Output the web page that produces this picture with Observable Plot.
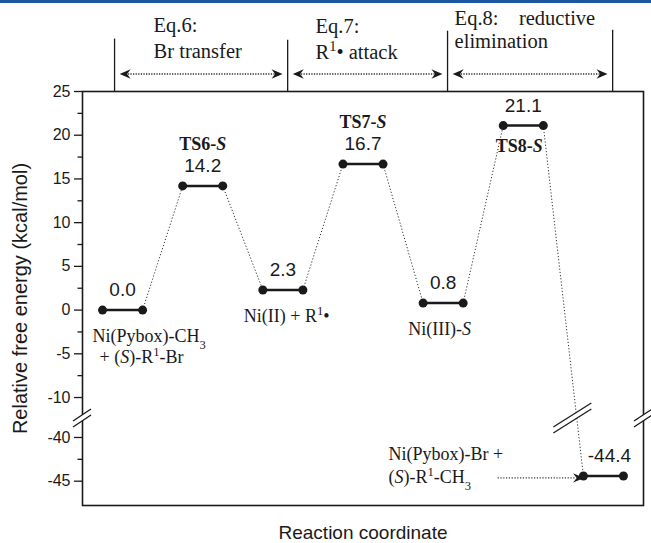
<!DOCTYPE html>
<html><head><meta charset="utf-8">
<script src="https://cdn.jsdelivr.net/npm/d3@7"></script>
<script src="https://cdn.jsdelivr.net/npm/@observablehq/plot@0.6"></script>
<style>
body{margin:0;background:#fff;}
#wrap{position:relative;width:651px;height:543px;}
#bar{position:absolute;left:0;top:0;width:651px;height:3px;background:#1b56a0;}
</style></head><body>
<div id="wrap"><div id="chart"></div><div id="bar"></div></div>
<script>
// ---- data ----
const steps = [0, 1, 2, 3, 4, 5, 6];
const energies = [0.0, 14.2, 2.3, 16.7, 0.8, 21.1, -44.4];
const energyLabels = ["0.0", "14.2", "2.3", "16.7", "0.8", "21.1", "-44.4"];
const tsNames = ["", "TS6-<i>S</i>", "", "TS7-<i>S</i>", "", "TS8-<i>S</i>", ""];
const speciesNames = ["Ni(Pybox)-CH<sub>3</sub>", "", "Ni(II) + R<sup>1</sup>•", "", "Ni(III)-<i>S</i>", "", ""];
const speciesLine2 = ["+ (<i>S</i>)-R<sup>1</sup>-Br", "", "", "", "", "", ""];
const productLines = ["Ni(Pybox)-Br +", "(<i>S</i>)-R<sup>1</sup>-CH<sub>3</sub>"];
const majorTicks = [25, 20, 15, 10, 5, 0, -5, -10, -40, -45];
const tickLabels = ["25", "20", "15", "10", "5", "0", "-5", "-10", "-40", "-45"];
const minorTicks = [22.5, 17.5, 12.5, 7.5, 2.5, -2.5, -7.5, -42.5];
const stageLine1 = ["Eq.6:", "Eq.7:", "Eq.8:\u00a0\u00a0\u00a0\u00a0reductive"];
const stageLine2 = ["Br transfer", "R<sup>1</sup>• attack", "elimination"];
const stageBounds = [-0.1, 2.06, 4.055, 6.115];

// ---- broken axis transform ----
const GAP = 25.43;                 // compresses -40..-10 region
const brk = v => v <= -25 ? v + GAP : v;
const BREAK_Y = -12.4;
const tickLabelMap = new Map(majorTicks.map((t, i) => [brk(t), tickLabels[i]]));

const SERIF = "'Liberation Serif','Times New Roman',serif";
const SANS = "'Liberation Sans',Arial,sans-serif";
const INK = "#1a1a1a";

const headRight = {draw(ctx, size) { const r = Math.sqrt(size / Math.PI);
  ctx.moveTo(r, 0); ctx.lineTo(-r, -r * 0.85); ctx.lineTo(-r * 0.35, 0); ctx.lineTo(-r, r * 0.85); ctx.closePath(); }};
const headLeft = {draw(ctx, size) { const r = Math.sqrt(size / Math.PI);
  ctx.moveTo(-r, 0); ctx.lineTo(r, -r * 0.85); ctx.lineTo(r * 0.35, 0); ctx.lineTo(r, r * 0.85); ctx.closePath(); }};

const Y = i => brk(energies[i]);
const conn = steps.slice(0, -1);

// header layout (data space above the frame)
const lineTops = [31.0, 30.85, 31.9, 32.0];
const textStarts = [0.387, 2.408, 4.143];
const line1Y = [32.55, 32.45, 33.35];
const line2Y = [29.58, 29.5, 30.75];
const ARROW_Y = 27.0;

function breaks(index, {x, y}) {
  const g = d3.create("svg:g");
  const cy = y(BREAK_Y);
  const pair = (cx, hx, hy, gap) => {
    g.append("path")
      .attr("d", `M${cx - hx},${cy + hy - gap}L${cx + hx},${cy - hy - gap}L${cx + hx},${cy - hy + gap}L${cx - hx},${cy + hy + gap}Z`)
      .attr("fill", "white");
    for (const s of [-gap, gap]) {
      g.append("line").attr("x1", cx - hx).attr("y1", cy + hy + s)
        .attr("x2", cx + hx).attr("y2", cy - hy + s)
        .attr("stroke", INK).attr("stroke-width", 1.3);
    }
  };
  pair(x(-0.5), 9, 6, 3);
  pair(x(6.5), 9, 6, 3);
  const x1 = x(5.25), y1 = y(Y(5)), x2 = x(5.75), y2 = y(Y(6));
  const cx = x1 + (x2 - x1) * (cy - y1) / (y2 - y1);
  pair(cx - 4, 19, 12, 3);
  return g.node();
}

const speciesMarks = [];
const speciesLayout = [{i: 0, dx: -30}, {i: 2, dx: -39}, {i: 4, dx: -35}];
for (const {i, dx} of speciesLayout) {
  speciesMarks.push(Plot.text([i], {x: d => d, y: Y, text: d => speciesNames[d], textAnchor: "start",
    dx, dy: 26, lineAnchor: "middle", fontFamily: SERIF, fontSize: 18, fill: INK}));
}
speciesMarks.push(Plot.text([0], {x: d => d, y: Y, text: d => speciesLine2[d], textAnchor: "start",
  dx: -23, dy: 47, lineAnchor: "middle", fontFamily: SERIF, fontSize: 18, fill: INK}));

const plot = Plot.plot({
  width: 651, height: 543,
  marginTop: 91, marginBottom: 38, marginLeft: 82, marginRight: 8,
  style: {fontFamily: SANS, background: "transparent", overflow: "visible"},
  x: {domain: [-0.5, 6.5], axis: null},
  y: {domain: [-22.35, 25]},
  marks: [
    // connectors
    Plot.link(conn, {x1: i => i + 0.25, y1: Y, x2: i => i + 0.75, y2: i => Y(i + 1),
      stroke: "#333", strokeWidth: 1, strokeDasharray: "1.2,2"}),
    Plot.frame({stroke: INK, strokeWidth: 1.6}),
    breaks,
    Plot.axisY(majorTicks.map(brk), {anchor: "left", tickSize: 8, tickPadding: 4, label: null,
      tickFormat: d => tickLabelMap.get(d), fontSize: 16, color: INK, strokeWidth: 1.3}),
    Plot.axisY(minorTicks.map(brk), {anchor: "left", tickSize: 4.5, label: null,
      tickFormat: () => "", color: INK, strokeWidth: 1.3}),
    // levels
    Plot.ruleY(steps, {y: Y, x1: i => i - 0.25, x2: i => i + 0.25, stroke: INK, strokeWidth: 2.5}),
    Plot.dot(steps, {x: i => i - 0.25, y: Y, r: 4.5, fill: INK, stroke: "none"}),
    Plot.dot(steps, {x: i => i + 0.25, y: Y, r: 4.5, fill: INK, stroke: "none"}),
    Plot.text(steps.slice(0, 6), {x: i => i, y: Y, text: i => energyLabels[i], dy: -20, lineAnchor: "middle",
      fontFamily: SANS, fontSize: 19, fill: INK}),
    Plot.text([6], {x: i => i, y: Y, text: i => energyLabels[i], dx: 6, dy: -20, lineAnchor: "middle",
      fontFamily: SANS, fontSize: 19, fill: INK}),
    Plot.text([1, 3], {x: i => i, y: Y, text: i => tsNames[i], dy: -42, lineAnchor: "middle",
      fontFamily: SERIF, fontSize: 18, fontWeight: "bold", fill: INK}),
    Plot.text([5], {x: i => i, y: Y, text: i => tsNames[i], dx: -4, dy: 21, lineAnchor: "middle",
      fontFamily: SERIF, fontSize: 18, fontWeight: "bold", fill: INK}),
    ...speciesMarks,
    // product label with dotted arrow
    Plot.text([6], {x: i => i, y: Y, text: () => productLines[0], textAnchor: "start", dx: -215, dy: -22,
      lineAnchor: "middle", fontFamily: SERIF, fontSize: 18, fill: INK}),
    Plot.text([6], {x: i => i, y: Y, text: () => productLines[1], textAnchor: "start", dx: -215, dy: 1,
      lineAnchor: "middle", fontFamily: SERIF, fontSize: 18, fill: INK}),
    Plot.link([6], {x1: i => i - 1.32, x2: i => i - 0.36, y1: Y, y2: Y, dy: 2,
      stroke: "#333", strokeWidth: 1.3, strokeDasharray: "1.2,1.6"}),
    Plot.dot([6], {x: i => i - 0.31, y: Y, dy: 2, symbol: headRight, r: 5.5, fill: INK, stroke: "none"}),
    // header: stage separators, arrows, labels
    Plot.ruleX(stageBounds, {x: d => d, y1: 25, y2: (d, i) => lineTops[i], stroke: INK, strokeWidth: 1.3}),
    Plot.link([0, 1, 2], {x1: k => stageBounds[k] + 0.1, x2: k => stageBounds[k + 1] - 0.1,
      y1: ARROW_Y, y2: ARROW_Y, stroke: "#333", strokeWidth: 1.5, strokeDasharray: "1.3,1.3"}),
    Plot.dot([0, 1, 2], {x: k => stageBounds[k] + 0.07, y: ARROW_Y, dx: 5, symbol: headLeft, r: 5.5, fill: INK, stroke: "none"}),
    Plot.dot([0, 1, 2], {x: k => stageBounds[k + 1] - 0.07, y: ARROW_Y, dx: -5, symbol: headRight, r: 5.5, fill: INK, stroke: "none"}),
    Plot.text([0, 1, 2], {x: k => textStarts[k], y: k => line1Y[k], text: k => stageLine1[k], textAnchor: "start",
      lineAnchor: "middle", fontFamily: SERIF, fontSize: 20.5, fill: INK}),
    Plot.text([0, 1, 2], {x: k => textStarts[k], y: k => line2Y[k], text: k => stageLine2[k], textAnchor: "start",
      lineAnchor: "middle", fontFamily: SERIF, fontSize: 20.5, fill: INK}),
    // axis titles
    Plot.text(["Relative free energy (kcal/mol)"], {frameAnchor: "left", text: d => d, rotate: -90, dx: -62,
      textAnchor: "middle", lineAnchor: "middle", fontFamily: SANS, fontSize: 20, fill: INK}),
    Plot.text(["Reaction coordinate"], {frameAnchor: "bottom", text: d => d, dy: 27, lineAnchor: "middle",
      fontFamily: SANS, fontSize: 19, fill: INK})
  ]
});

// rich text: <i>, <b>, <sup>, <sub>
function richify(el) {
  const s = el.textContent;
  if (!s.includes("<")) return;
  while (el.firstChild) el.removeChild(el.firstChild);
  const re = /<(i|b|sup|sub)>(.*?)<\/\1>/g;
  let last = 0, m;
  const NS = "http://www.w3.org/2000/svg";
  while ((m = re.exec(s))) {
    if (m.index > last) el.appendChild(document.createTextNode(s.slice(last, m.index)));
    const t = document.createElementNS(NS, "tspan");
    t.textContent = m[2];
    if (m[1] === "i") t.setAttribute("font-style", "italic");
    if (m[1] === "b") t.setAttribute("font-weight", "bold");
    if (m[1] === "sup") { t.setAttribute("baseline-shift", "super"); t.setAttribute("font-size", "70%"); }
    if (m[1] === "sub") { t.setAttribute("baseline-shift", "sub"); t.setAttribute("font-size", "70%"); }
    el.appendChild(t);
    last = re.lastIndex;
  }
  if (last < s.length) el.appendChild(document.createTextNode(s.slice(last)));
}
plot.querySelectorAll("text").forEach(t => {
  const spans = t.querySelectorAll("tspan");
  if (spans.length) spans.forEach(richify); else richify(t);
});
document.getElementById("chart").appendChild(plot);
</script>
</body></html>
